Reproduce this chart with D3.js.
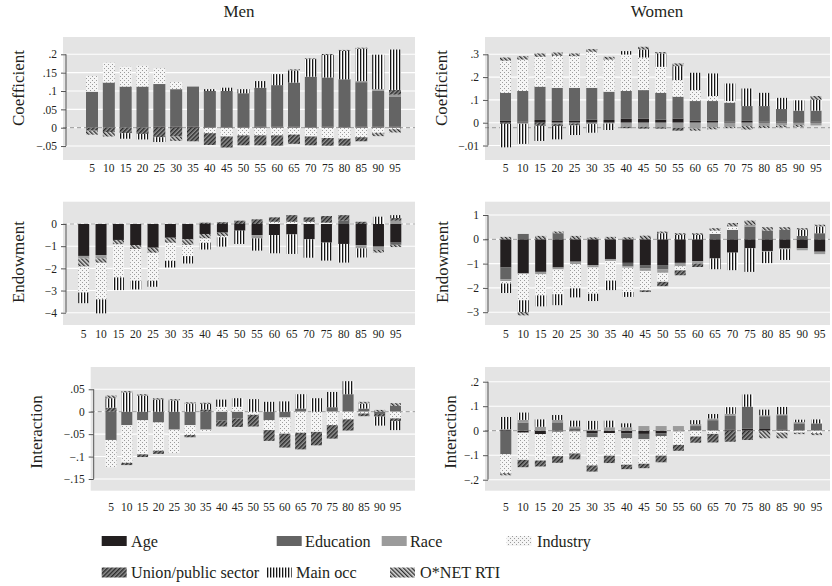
<!DOCTYPE html>
<html><head><meta charset="utf-8">
<script src="https://cdn.jsdelivr.net/npm/d3@7"></script>
<style>
body{margin:0;background:#fff}
svg{display:block}
</style>
</head><body>
<svg id="chart" width="832" height="586"></svg>
<script>
const quantiles = [5,10,15,20,25,30,35,40,45,50,55,60,65,70,75,80,85,90,95];
const seriesNames = ["Age","Education","Race","Industry","Union/public sector","Main occ","O*NET RTI"];

// rows: Age, Education, Race, Industry, Union/public sector, Main occ, O*NET RTI
const menCoefficient = [
  [0,0,0,0,0.003,0.003,0.003,0.002,0.002,0.002,0.003,0.003,0.003,0.002,0.003,0.002,0.003,0.003,0.003],
  [0.098,0.123,0.112,0.112,0.116,0.102,0.109,0.098,0.098,0.092,0.106,0.113,0.120,0.137,0.134,0.130,0.121,0.098,0.082],
  [0,0,0,0,0,0,0,0,0,0,0,0,0,0,0,0,0.003,0.004,0.005],
  [0.043,0.054,0.054,0.057,0.043,0.020,0,-0.015,-0.024,-0.021,-0.021,-0.021,-0.019,-0.024,-0.028,-0.030,-0.026,-0.014,-0.004],
  [-0.008,-0.012,-0.015,-0.017,-0.026,-0.024,-0.037,-0.032,-0.030,-0.027,-0.027,-0.028,-0.025,-0.024,-0.021,-0.019,-0.011,0,0.013],
  [0,0,-0.015,-0.015,-0.013,0,0,0.005,0.009,0.011,0.018,0.030,0.033,0.048,0.061,0.077,0.088,0.094,0.110],
  [-0.011,-0.012,0,0,0,-0.012,0,0,0,0,0,0,0.003,0.002,0.003,0.003,0.003,-0.009,-0.009]
];
const womenCoefficient = [
  [0.008,0.004,0.012,0.010,0.008,0.013,0.012,0.017,0.018,0.013,0.018,0.008,0.008,0.004,0.008,0.004,0.004,0.003,0.004],
  [0.123,0.135,0.146,0.143,0.145,0.140,0.124,0.122,0.125,0.118,0.096,0.087,0.087,0.084,0.065,0.069,0.056,0.050,0.049],
  [0,-0.005,0,-0.006,-0.003,-0.006,-0.004,-0.018,-0.018,-0.020,-0.023,-0.026,-0.020,-0.018,-0.015,-0.014,-0.012,-0.010,-0.012],
  [0.141,0.138,0.131,0.140,0.139,0.158,0.141,0.160,0.143,0.114,0.073,0.048,0.022,0.007,0,0,0,0,0],
  [-0.005,0,-0.014,-0.009,-0.009,0,0,-0.006,-0.008,-0.006,-0.012,0,0,0,0,0,0,0,0],
  [-0.103,-0.088,-0.066,-0.058,-0.042,-0.038,-0.028,0.015,0.035,0.059,0.061,0.076,0.099,0.077,0.077,0.058,0.049,0.045,0.047],
  [0.014,0.015,0.015,0.015,0.012,0.012,0.012,0,0.012,0.006,0.012,-0.009,-0.009,-0.006,-0.015,-0.009,-0.008,-0.008,0.017]
];
const menEndowment = [
  [-1.44,-1.40,-0.72,-0.95,-1.07,-0.62,-0.69,-0.45,-0.39,-0.30,-0.50,-0.50,-0.47,-0.69,-0.84,-0.90,-0.95,-1.02,-0.84],
  [0,0,0,0,0,0,0,0,0,0,0,0,0,0,0,0.15,0,0,-0.10],
  [-0.12,-0.15,0,0,0,0,0,0,0,0,-0.15,0,0,0,0,0,-0.15,-0.15,0.15],
  [-1.17,-1.65,-1.49,-1.43,-1.26,-0.81,-0.50,-0.20,-0.06,0,0,0.10,0.10,0.10,0.06,0,0,0,0],
  [0,0,0,0,0,0,0,0.06,0.08,0.15,0.21,0.20,0.30,0.20,0.30,0.25,0.10,0,0.12],
  [-0.48,-0.63,-0.57,-0.39,-0.27,-0.30,-0.33,-0.30,-0.42,-0.60,-0.55,-0.82,-0.88,-0.83,-0.81,-0.84,-0.41,0.33,0.13],
  [-0.36,-0.20,-0.20,-0.18,-0.23,-0.23,-0.26,-0.20,-0.15,0,0,0,0,0,0,0,0,-0.12,-0.10]
];
const womenEndowment = [
  [-1.16,-1.41,-1.34,-1.16,-0.92,-1.06,-0.81,-0.97,-1.06,-1.06,-0.97,-0.90,-0.79,-0.55,-0.37,-0.48,-0.37,-0.37,-0.51],
  [-0.48,0.22,0,0.25,0,0,0,-0.14,-0.14,-0.18,0,0,0.22,0.39,0.52,0.36,0.39,0.14,0.25],
  [-0.08,0,-0.10,-0.08,-0.10,-0.10,-0.08,-0.06,-0.10,-0.14,-0.14,-0.10,0,0,0.07,-0.03,-0.04,-0.08,-0.10],
  [-0.10,-1.10,-0.87,-1.02,-1.00,-1.08,-0.81,-1.00,-0.80,-0.37,-0.17,0,0.14,0.14,0,0,0,0,0],
  [0,0,0,0,0,0,0,0,-0.07,-0.18,-0.20,-0.14,0,0,0,0,0,0,0],
  [-0.39,-0.48,-0.45,-0.45,-0.37,-0.30,-0.39,-0.20,0,0.25,0.18,0.18,-0.44,-0.72,-0.97,-0.47,-0.44,0.25,0.28],
  [0.10,-0.14,0.14,0.07,0.14,0.08,0.10,0.08,0.15,0.07,0.07,0.07,0.10,0.14,0.18,0.14,0.11,0.07,0.07]
];
const menInteraction = [
  [0,0,0,0,0,0,0,0,0,0,0,0,0,0,0,0,0,0,0],
  [-0.063,-0.030,-0.019,-0.024,-0.040,-0.030,-0.040,-0.020,-0.015,0,-0.019,-0.013,0.007,0,0.010,0.039,0.007,-0.005,0.013],
  [0,0,0,0,0,0,0,0,0,0,0,0,0,0,0,0,0,0,0],
  [-0.061,-0.084,-0.076,-0.063,-0.052,-0.022,-0.005,0.011,0.011,-0.007,-0.022,-0.036,-0.047,-0.045,-0.030,-0.017,-0.004,0,-0.015],
  [0.009,-0.005,-0.006,-0.007,0,-0.005,0.005,-0.013,-0.019,-0.026,-0.024,-0.031,-0.037,-0.030,-0.030,-0.025,-0.006,-0.006,-0.006],
  [0.021,0.043,0.036,0.027,0.025,0.018,0.012,0.016,0.019,0.028,0.022,0.023,0.032,0.030,0.034,0.029,0.011,-0.020,-0.020],
  [0.006,0.003,0.003,0.003,0.003,0.003,0.003,0,0,0,0,0,0,0,0,0,0.004,0.004,0.006]
];
const womenInteraction = [
  [0.003,-0.008,-0.014,-0.004,-0.003,-0.010,-0.010,-0.010,-0.013,-0.010,-0.003,0,0,0.005,0.008,0.007,0.005,0,0],
  [-0.096,0.033,0,0.034,0.010,-0.017,0,-0.021,-0.022,-0.012,0,0.019,0.043,0.057,0.090,0.052,0.058,0.030,0.030],
  [0.003,0.011,0.016,0.010,0.007,0.005,0.014,0.014,0.019,0.019,0.019,0.008,0.007,0.007,0,0.004,0.004,0.005,0],
  [-0.077,-0.111,-0.108,-0.100,-0.090,-0.115,-0.092,-0.108,-0.100,-0.080,-0.055,-0.024,-0.013,0,0,0,-0.008,-0.008,-0.010],
  [0,-0.030,-0.024,-0.027,-0.024,-0.025,-0.030,-0.018,-0.018,-0.027,-0.024,-0.025,-0.035,-0.045,-0.038,0,0,0,0],
  [0.050,0.030,0.030,0.020,0.024,0.035,0.027,0.016,0,0,0,0.016,0.018,0.027,0.050,0.023,0.030,0.010,0.016],
  [-0.009,0,0,0,0,0,0,0,0,0,0,0,0,0,0,-0.031,-0.023,-0.006,-0.008]
];

const menCoefTicks = [0.2,0.15,0.1,0.05,0,-0.05];
const menCoefTickLabels = [".2",".15",".1",".05","0","\u2212.05"];
const womenCoefTicks = [0.3,0.2,0.1,0,-0.1];
const womenCoefTickLabels = [".3",".2",".1","0","\u2212.01"];
const menEndTicks = [0,-1,-2,-3,-4];
const menEndTickLabels = ["0","\u22121","\u22122","\u22123","\u22124"];
const womenEndTicks = [1,0,-1,-2,-3];
const womenEndTickLabels = ["1","0","\u22121","\u22122","\u22123"];
const menIntTicks = [0.05,0,-0.05,-0.1,-0.15];
const menIntTickLabels = [".05","0","\u2212.05","\u2212.1","\u2212.15"];
const womenIntTicks = [0.2,0.1,0,-0.1,-0.2];
const womenIntTickLabels = [".2",".1","0","\u2212.1","\u2212.2"];

const FONT = "'Liberation Serif', Tinos, 'Times New Roman', 'DejaVu Serif', serif";
const svg = d3.select("#chart");
const defs = svg.append("defs");
function pat(id, w, h, bg, draw, transform){
  const p = defs.append("pattern").attr("id",id).attr("patternUnits","userSpaceOnUse")
    .attr("width",w).attr("height",h);
  if (transform) p.attr("patternTransform",transform);
  p.append("rect").attr("width",w).attr("height",h).attr("fill",bg);
  draw(p);
}
pat("pInd",4,4,"#f5f5f5",p=>{
  p.append("rect").attr("x",0).attr("y",0).attr("width",1).attr("height",1).attr("fill","#9c9c9c");
  p.append("rect").attr("x",2).attr("y",2).attr("width",1).attr("height",1).attr("fill","#9c9c9c");
});
pat("pUnion",3,3,"#8e8e8e",p=>{
  p.append("rect").attr("x",0).attr("y",0).attr("width",1.4).attr("height",3).attr("fill","#2a2a2a");
},"rotate(45)");
pat("pMain",3,3,"#ffffff",p=>{
  p.append("rect").attr("x",0).attr("y",0).attr("width",1.3).attr("height",3).attr("fill","#161616");
});
pat("pOnet",3,3,"#d6d6d6",p=>{
  p.append("rect").attr("x",0).attr("y",0).attr("width",1.3).attr("height",3).attr("fill","#2e2e2e");
},"rotate(-45)");

const fills = ["#231f20","#646464","#9b9b9b","url(#pInd)","url(#pUnion)","url(#pMain)","url(#pOnet)"];

const panels = [
  {data:menCoefficient, title:"Coefficient", gx:[63,415], gy:[37,160], yv:[0,0.2], yp:[127.7,54.3],
   c:[92,395], bw:12, ticks:menCoefTicks, tickLabels:menCoefTickLabels, ref:0, order:[0,1,2,3,4,5,6],
   titleX:24, titleY:88, xLabY:172},
  {data:womenCoefficient, title:"Coefficient", gx:[485,830], gy:[37,160], yv:[0,0.3], yp:[122.7,54.3],
   c:[505.5,816], bw:11, ticks:womenCoefTicks, tickLabels:womenCoefTickLabels, ref:-0.022, order:[0,1,2,3,4,5,6],
   titleX:447, titleY:88, xLabY:172},
  {data:menEndowment, title:"Endowment", gx:[63,415], gy:[201.7,325], yv:[0,-4], yp:[224,312.7],
   c:[83.7,395.8], bw:11, ticks:menEndTicks, tickLabels:menEndTickLabels, ref:0, order:[0,1,2,6,3,4,5],
   titleX:24, titleY:262, xLabY:338},
  {data:womenEndowment, title:"Endowment", gx:[485,830], gy:[201.7,325], yv:[0,1], yp:[239.3,215],
   c:[505.8,819.7], bw:11, ticks:womenEndTicks, tickLabels:womenEndTickLabels, ref:0, order:[0,1,2,3,4,5,6],
   titleX:448, titleY:262, xLabY:338},
  {data:menInteraction, title:"Interaction", gx:[90.7,415], gy:[367,490.7], yv:[0,-0.15], yp:[411.7,479],
   c:[111,395.5], bw:11, ticks:menIntTicks, tickLabels:menIntTickLabels, ref:0, order:[0,1,2,3,4,5,6],
   titleX:42, titleY:432, xLabY:511},
  {data:womenInteraction, title:"Interaction", gx:[485,830], gy:[367,490.7], yv:[0,0.2], yp:[430.7,381.7],
   c:[505.8,816.5], bw:11, ticks:womenIntTicks, tickLabels:womenIntTickLabels, ref:0, order:[0,1,2,3,4,5,6],
   titleX:456, titleY:432, xLabY:511}
];

panels.forEach(p=>{
  const g = svg.append("g");
  const x = d3.scalePoint().domain(quantiles).range(p.c);
  const y = d3.scaleLinear().domain(p.yv).range(p.yp);
  g.append("rect").attr("x",p.gx[0]).attr("y",p.gy[0]).attr("width",p.gx[1]-p.gx[0])
    .attr("height",p.gy[1]-p.gy[0]).attr("fill","#e4e4e4");
  g.selectAll(".grid").data(p.ticks).join("line")
    .attr("x1",p.gx[0]).attr("x2",p.gx[1]).attr("y1",d=>y(d)).attr("y2",d=>y(d))
    .attr("stroke","#fff").attr("stroke-width",1.1);
  g.append("line").attr("x1",p.gx[0]).attr("x2",p.gx[1]).attr("y1",y(p.ref)).attr("y2",y(p.ref))
    .attr("stroke","#a8a8a8").attr("stroke-width",1.2).attr("stroke-dasharray","4,3");
  const rows = quantiles.map((q,i)=>{const o={q}; seriesNames.forEach((s,j)=>o[s]=p.data[j][i]); return o;});
  const keys = p.order.map(j=>seriesNames[j]);
  const stacked = d3.stack().keys(keys).offset(d3.stackOffsetDiverging)(rows);
  stacked.forEach(layer=>{
    const fi = seriesNames.indexOf(layer.key);
    g.append("g").selectAll("rect").data(layer.filter(d=>d[1]!==d[0])).join("rect")
      .attr("x",d=>x(d.data.q)-p.bw/2).attr("width",p.bw)
      .attr("y",d=>y(Math.max(d[0],d[1]))).attr("height",d=>Math.abs(y(d[0])-y(d[1])))
      .attr("fill",fills[fi]);
  });
  const ax = p.gx[0]+3;
  const axis = d3.axisLeft(y).tickValues(p.ticks).tickSize(5).tickPadding(4)
    .tickFormat((d,i)=>p.tickLabels[i]);
  const ag = g.append("g").attr("transform",`translate(${ax},0)`).call(axis);
  ag.select(".domain").remove();
  ag.append("line").attr("x1",0).attr("x2",0).attr("y1",y(d3.max(p.ticks))).attr("y2",y(d3.min(p.ticks)))
    .attr("stroke","#555");
  ag.selectAll(".tick line").attr("stroke","#555");
  ag.selectAll(".tick text").style("font-family",FONT).style("font-size","11.5px").attr("fill","#231f20");
  g.selectAll(".xl").data(quantiles).join("text")
    .attr("x",d=>x(d)).attr("y",p.xLabY).attr("text-anchor","middle")
    .style("font-family",FONT).style("font-size","11.5px").attr("fill","#231f20")
    .text(d=>d);
  g.append("text").attr("transform",`translate(${p.titleX},${p.titleY}) rotate(-90)`)
    .attr("text-anchor","middle").style("font-family",FONT).style("font-size","17px").attr("fill","#231f20")
    .text(p.title);
});

svg.append("text").attr("x",239).attr("y",17).attr("text-anchor","middle")
  .style("font-family",FONT).style("font-size","17px").attr("fill","#231f20").text("Men");
svg.append("text").attr("x",657).attr("y",17).attr("text-anchor","middle")
  .style("font-family",FONT).style("font-size","17px").attr("fill","#231f20").text("Women");

const legendItems = [
  {i:0, sx:101.7, tx:131, y:536},
  {i:1, sx:276.7, tx:305, y:536},
  {i:2, sx:381.7, tx:410, y:536},
  {i:3, sx:506.7, tx:537, y:536},
  {i:4, sx:101.7, tx:131, y:567.5},
  {i:5, sx:266.7, tx:296, y:567.5},
  {i:6, sx:390, tx:420, y:567.5}
];
const lg = svg.append("g");
legendItems.forEach(d=>{
  lg.append("rect").attr("x",d.sx).attr("y",d.y).attr("width",25).attr("height",10).attr("fill",fills[d.i]);
  lg.append("text").attr("x",d.tx).attr("y",d.y+10.5).style("font-family",FONT).style("font-size","16.2px")
    .attr("fill","#231f20").text(seriesNames[d.i]);
});
</script>
</body></html>
